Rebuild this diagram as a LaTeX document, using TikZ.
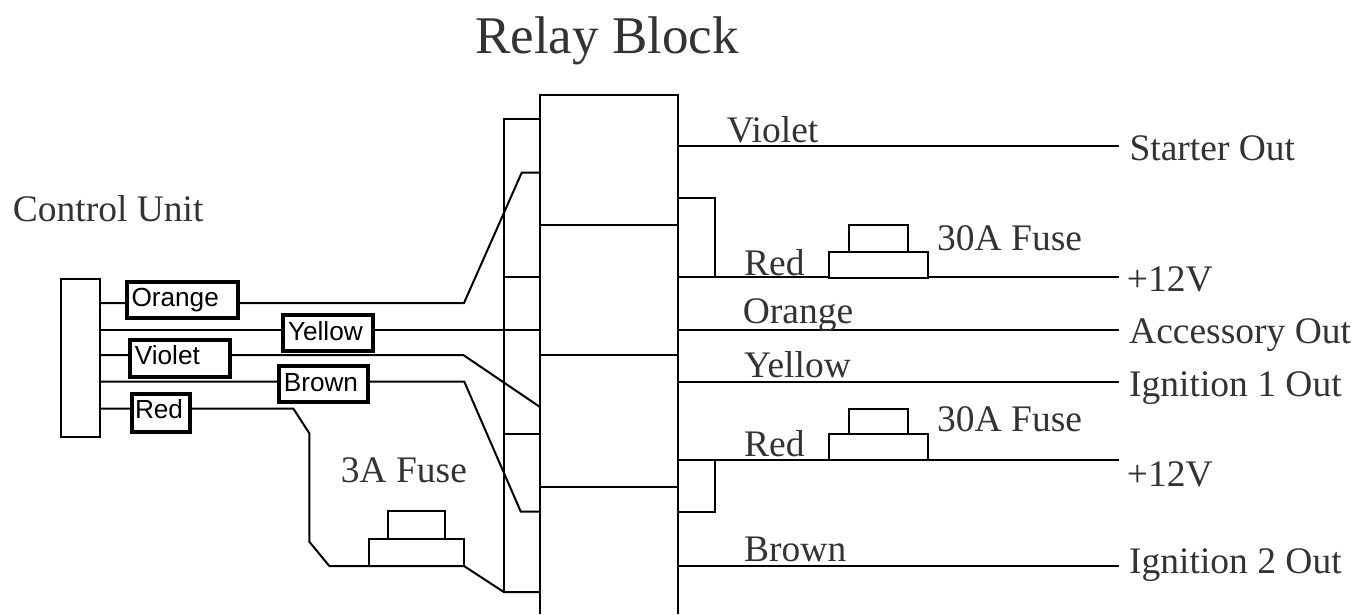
\documentclass[tikz,border=0pt]{standalone}
\usepackage{fontspec}
\setmainfont{Liberation Serif}
\newfontfamily\lblfont{Liberation Sans}
\begin{document}
\begin{tikzpicture}[x=1pt,y=-1pt,
  wire/.style={line width=2pt, line join=miter},
  part/.style={line width=2pt, fill=white},
  boxlbl/.style={draw, line width=4pt, fill=white, font=\lblfont\fontsize{26.2}{29}\selectfont,
    inner xsep=5pt, inner ysep=0pt, anchor=base west, align=left},
  lblsize/.style n args={3}{text width=#1, text height=#2, text depth=#3},
  txt/.style={font=\fontsize{37.5}{40}\selectfont, text=black!80, inner sep=0pt, anchor=base west},
  title/.style={font=\fontsize{53}{56}\selectfont, text=black!80, inner sep=0pt, anchor=base west},
]
\useasboundingbox (0,0) rectangle (1372,614);

% titles
\node[title] (ttl) at (475,53.3) {Relay Block};
\node[txt] (cut) at (12.7,221.7) {Control Unit};

% control unit
\node[draw, line width=2pt, minimum width=39pt, minimum height=158pt, inner sep=0pt, anchor=north west] (cu) at (60.3,277.7) {};

% relay block
\draw[wire] (540,614) -- (540,95) -- (677.7,95) -- (677.7,614);
\draw[wire] (540,225) -- (677.7,225);
\draw[wire] (540,354.5) -- (677.7,354.5);
\draw[wire] (540,487) -- (677.7,487);

% bus on the left of the relay block
\draw[wire] (540,119) -- (504,119) -- (504,592) -- (540,592);
\draw[wire] (504,276.5) -- (540,276.5);
\draw[wire] (504,433.5) -- (540,433.5);

% wires from control unit
\draw[wire] (99.3,303) -- (464,303) -- (521.7,172.7) -- (540,172.7);
\draw[wire] (99.3,330) -- (540,330);
\draw[wire] (99.3,355) -- (463.3,355) -- (540,407);
\draw[wire] (99.3,381.7) -- (464.3,381.7) -- (520.7,511.5) -- (540,511.5);
\draw[wire] (99.3,408.5) -- (293.3,408.5) -- (309.3,433.3) -- (309.3,541.7) -- (329.3,566) -- (464,566) -- (503.8,592) -- (540,592);

% right side wires
\draw[wire] (677.7,146) -- (1119.3,146);
\draw[wire] (677.7,198) -- (714.5,198) -- (714.5,276.5);
\draw[wire] (677.7,276.5) -- (1119.3,276.5);
\draw[wire] (677.7,330.3) -- (1119.3,330.3);
\draw[wire] (677.7,382) -- (1119.3,382);
\draw[wire] (677.7,460.3) -- (1119.3,460.3);
\draw[wire] (714.5,460.3) -- (714.5,511.8) -- (677.7,511.8);
\draw[wire] (677.7,566) -- (1119.3,566);

% fuses
\draw[part] (829.3,252) rectangle (927.7,277.5);
\draw[part] (849.3,224.5) rectangle (908.3,252);
\draw[part] (829.3,434) rectangle (927.7,460.3);
\draw[part] (849.3,409) rectangle (908.3,434);
\draw[part] (369,538.5) rectangle (464.3,566);
\draw[part] (388.3,511) rectangle (445,538.5);

% boxed labels
\node[boxlbl, lblsize={101.5pt}{25.2pt}{11.6pt}] (lorange) at (124.5,306.7) {Orange};
\node[boxlbl, lblsize={79.5pt}{25.5pt}{10.5pt}] (lyellow) at (281,340) {Yellow};
\node[boxlbl, lblsize={90.4pt}{24.8pt}{12.2pt}] (lviolet) at (127.8,364.3) {Violet};
\node[boxlbl, lblsize={79.2pt}{25.7pt}{9.8pt}] (lbrown) at (276.8,391.7) {Brown};
\node[boxlbl, lblsize={52.2pt}{24.8pt}{13.2pt}, inner xsep=3pt] (lred) at (130,418.3) {Red};

% texts
\node[txt] (f3a) at (340.7,482.7) {3A Fuse};
\node[txt] (tviolet) at (726.7,142.3) {Violet};
\node[txt] (tstarter) at (1129.3,160) {Starter Out};
\node[txt] (tred1) at (744,275) {Red};
\node[txt] (tfuse1) at (937,250) {30A Fuse};
\node[txt] (tv1) at (1126.7,291.7) {+12V};
\node[txt] (torange) at (742.7,323.3) {Orange};
\node[txt] (tacc) at (1129,343.3) {Accessory Out};
\node[txt] (tyellow) at (744,377) {Yellow};
\node[txt] (tign1) at (1129,396) {Ignition 1 Out};
\node[txt] (tred2) at (744,456.7) {Red};
\node[txt] (tfuse2) at (937,431.7) {30A Fuse};
\node[txt] (tv2) at (1126.7,486) {+12V};
\node[txt] (tbrown) at (744,561.7) {Brown};
\node[txt] (tign2) at (1129,573.3) {Ignition 2 Out};
\end{tikzpicture}
\end{document}
